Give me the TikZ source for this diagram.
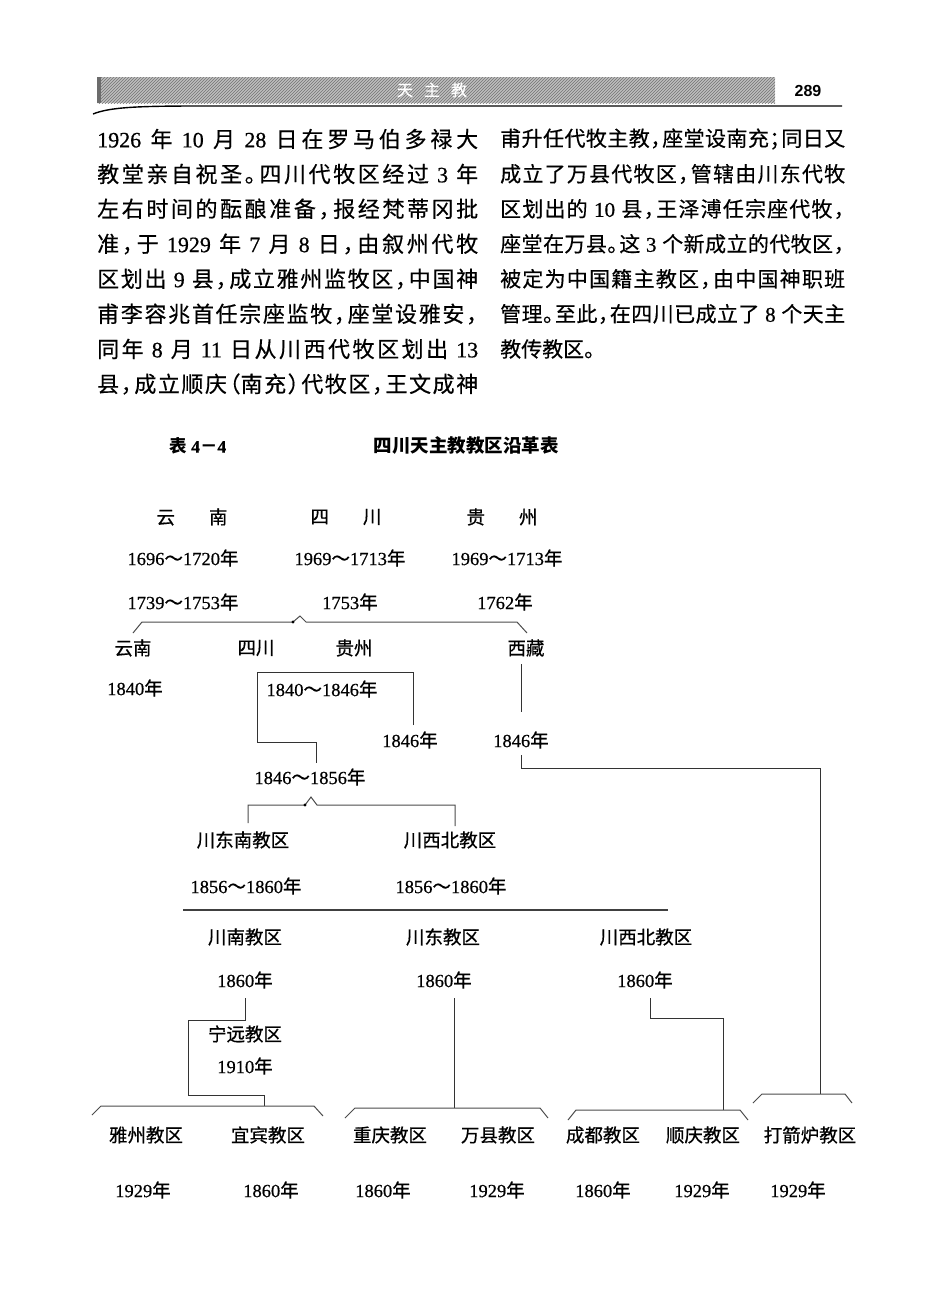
\documentclass[tikz,border=0pt]{standalone}
\usepackage{fontspec}
\usetikzlibrary{patterns}
\setmainfont{Noto Sans CJK SC}
\newfontfamily\ser{Liberation Serif}
\newfontfamily\serb{Liberation Serif}[FakeBold=0.6]
\newfontfamily\labcjk{Noto Sans CJK SC}[FakeBold=0.6]
\newfontfamily\bodycjk{Noto Sans CJK SC}[FakeBold=0.4]
\newfontfamily\sanslat{Liberation Sans}
\newcommand\nm[1]{{\serb #1}}
\newcommand\ny[1]{{\serb #1}}
\newcommand\gs{\hskip 0.25em plus 1fil\relax}
% inter-character glue for justified CJK lines
\newcount\cc
\cc="4E00 \loop \XeTeXcharclass\cc=21 \advance\cc by 1 \ifnum\cc<"A000 \repeat
\cc="3000 \loop \XeTeXcharclass\cc=21 \advance\cc by 1 \ifnum\cc<"3040 \repeat
\cc="FF00 \loop \XeTeXcharclass\cc=21 \advance\cc by 1 \ifnum\cc<"FFF0 \repeat
\XeTeXcharclass"FF0C=22 \XeTeXcharclass"3002=22 \XeTeXcharclass"FF1B=22
\XeTeXcharclass"FF1A=22 \XeTeXcharclass"3001=22 \XeTeXcharclass"FF09=22
\XeTeXcharclass"FF08=23
\XeTeXinterchartokenstate=1
\XeTeXinterchartoks 21 21 = {\hskip 0pt plus 1fil}
\XeTeXinterchartoks 21 22 = {\hskip 0pt plus 1fil}
\XeTeXinterchartoks 22 21 = {\kern-0.45em\hskip 0pt plus 1fil}
\XeTeXinterchartoks 22 22 = {\kern-0.45em}
\XeTeXinterchartoks 22 23 = {\kern-0.45em\kern-0.45em}
\XeTeXinterchartoks 21 23 = {\hskip 0pt plus 1fil\kern-0.45em}
\XeTeXinterchartoks 23 21 = {}
\newcommand\puncend{\kern-0.45em}
\begin{document}
\begin{tikzpicture}[x=1pt,y=-1pt,
  bodyl/.style={anchor=west,inner sep=0pt,font=\bodycjk\fontsize{22}{22}\selectfont},
  bodyr/.style={anchor=west,inner sep=0pt,font=\bodycjk\fontsize{21}{21}\selectfont},
  lab/.style={inner sep=1pt,font=\labcjk\fontsize{18.5}{19}\selectfont},
  ln/.style={line width=1pt,black!80},
  brk/.style={line width=1pt,black!70}]
\useasboundingbox (0,0) rectangle (936,1310);
\fill[white] (0,0) rectangle (936,1310);
% header
\fill[gray!50] (97,77) rectangle (775,103);
\fill[pattern=north east lines,pattern color=gray!90!black] (97,77) rectangle (775,103);
\fill[gray!85!black] (97,77) rectangle (101,103);
\node[inner sep=0pt,text=white,font=\labcjk\fontsize{16}{16}\selectfont] (hd) at (432,90) {天\hspace{11pt}主\hspace{11pt}教};
\node[inner sep=0pt,font=\fontsize{16}{16}\selectfont] (pg) at (808,91) {\sanslat\bfseries 289};
\draw[line width=1.4pt] (93,114) .. controls (110,107) and (140,106) .. (200,106) -- (842,106);
% left column
\node[bodyl] (a1) at (97,139) {\makebox[381pt][s]{\nm{1926}\gs 年\gs\nm{10}\gs 月\gs\nm{28}\gs 日在罗马伯多禄大}};
\node[bodyl] (a2) at (97,174) {\makebox[381pt][s]{教堂亲自祝圣。四川代牧区经过\gs\nm{3}\gs 年}};
\node[bodyl] (a3) at (97,209) {\makebox[381pt][s]{左右时间的酝酿准备，报经梵蒂冈批}};
\node[bodyl] (a4) at (97,244) {\makebox[381pt][s]{准，于\gs\nm{1929}\gs 年\gs\nm{7}\gs 月\gs\nm{8}\gs 日，由叙州代牧}};
\node[bodyl] (a5) at (97,279) {\makebox[381pt][s]{区划出\gs\nm{9}\gs 县，成立雅州监牧区，中国神}};
\node[bodyl] (a6) at (97,314) {\makebox[381pt][s]{甫李容兆首任宗座监牧，座堂设雅安，\puncend}};
\node[bodyl] (a7) at (97,349) {\makebox[381pt][s]{同年\gs\nm{8}\gs 月\gs\nm{11}\gs 日从川西代牧区划出\gs\nm{13}}};
\node[bodyl] (a8) at (97,384) {\makebox[381pt][s]{县，成立顺庆（南充）代牧区，王文成神}};
% right column
\node[bodyr] (b1) at (500,139) {\makebox[345pt][s]{甫升任代牧主教，座堂设南充；同日又}};
\node[bodyr] (b2) at (500,174) {\makebox[345pt][s]{成立了万县代牧区，管辖由川东代牧}};
\node[bodyr] (b3) at (500,209) {\makebox[345pt][s]{区划出的\gs\nm{10}\gs 县，王泽溥任宗座代牧，\puncend}};
\node[bodyr] (b4) at (500,244) {\makebox[345pt][s]{座堂在万县。这\gs\nm{3}\gs 个新成立的代牧区，\puncend}};
\node[bodyr] (b5) at (500,279) {\makebox[345pt][s]{被定为中国籍主教区，由中国神职班}};
\node[bodyr] (b6) at (500,314) {\makebox[345pt][s]{管理。至此，在四川已成立了\gs\nm{8}\gs 个天主}};
\node[bodyr] (b7) at (500,349) {教传教区。};
% titles
\node[lab,font=\bfseries\fontsize{17.5}{18}\selectfont] (t1) at (198,446) {表 \nm{\bfseries 4}－\nm{\bfseries 4}};
\node[lab,font=\bfseries\fontsize{18.5}{19}\selectfont] (t2) at (466,446) {四川天主教教区沿革表};
% row 1-3
\node[lab] (yn) at (192,517) {云\hspace{34pt}南};
\node[lab] (sc) at (346,517) {四\hspace{34pt}川};
\node[lab] (gz) at (502,517) {贵\hspace{34pt}州};
\node[lab] (yn1) at (183,558) {\ny{1696}～\ny{1720}年};
\node[lab] (sc1) at (350,558) {\ny{1969}～\ny{1713}年};
\node[lab] (gz1) at (507,558) {\ny{1969}～\ny{1713}年};
\node[lab] (yn2) at (183,602) {\ny{1739}～\ny{1753}年};
\node[lab] (sc2) at (350,602) {\ny{1753}年};
\node[lab] (gz2) at (505,602) {\ny{1762}年};
% bracket 1
\coordinate (k1l) at (133,633);
\coordinate (k1r) at (527,633);
\draw[brk] (k1l) -- (142,622) -- (293,622) -- (300,616) -- (306,622) -- (517,622) -- (k1r);
\fill (293,622) circle (1.6pt);
% row 4
\node[lab] (yn4) at (133,648) {云南};
\node[lab] (sc4) at (256,648) {四川};
\node[lab] (gz4) at (354,648) {贵州};
\node[lab] (xz4) at (526,648) {西藏};
\node[lab] (yn5) at (135,688) {\ny{1840}年};
\node[lab] (sc5) at (322,689) {\ny{1840}～\ny{1846}年};
\node[lab] (gz5) at (410,740) {\ny{1846}年};
\node[lab] (xz5) at (521,740) {\ny{1846}年};
\node[lab] (sc6) at (310,777) {\ny{1846}～\ny{1856}年};
\coordinate (bx1) at (257,672);
\coordinate (bx2) at (413,672);
\coordinate (bx3) at (413,725);
\coordinate (bx4) at (257,742);
\coordinate (bx5) at (316,742);
\coordinate (bx6) at (316,763);
\draw[ln] (bx3) -- (bx2) -- (bx1) -- (bx4) -- (bx5) -- (bx6);
\coordinate (xa) at (521,664);
\coordinate (xb) at (521,712);
\draw[ln] (xa) -- (xb);
\coordinate (xc) at (521,755);
\coordinate (xd) at (521,768);
\coordinate (xzc) at (820,768);
\coordinate (xze) at (820,1094);
\draw[ln] (xc) -- (xd) -- (xzc) -- (xze);
% bracket 2
\draw[brk] (248,823) -- (248,805) -- (305,805) -- (311,797) -- (317,805) -- (455,805) -- (455,826);
\fill (305,805) circle (1.6pt);
\node[lab] (cdn) at (243,840) {川东南教区};
\node[lab] (cxb) at (450,840) {川西北教区};
\node[lab] (cdn1) at (246,886) {\ny{1856}～\ny{1860}年};
\node[lab] (cxb1) at (451,886) {\ny{1856}～\ny{1860}年};
\draw[line width=1.1pt,black!75] (183,910) -- (668,910);
% row 1860
\node[lab] (cn) at (245,937) {川南教区};
\node[lab] (cd) at (443,937) {川东教区};
\node[lab] (cx) at (646,937) {川西北教区};
\node[lab] (cn1) at (245,980) {\ny{1860}年};
\node[lab] (cd1) at (444,980) {\ny{1860}年};
\node[lab] (cx1) at (645,980) {\ny{1860}年};
\node[lab] (ny) at (245,1034) {宁远教区};
\node[lab] (ny1) at (245,1066) {\ny{1910}年};
\draw[ln] (245,998) -- (245,1020) -- (188,1020) -- (188,1095) -- (264,1095) -- (264,1106);
\draw[ln] (454,998) -- (454,1108);
\draw[ln] (650,998) -- (650,1018) -- (723,1018) -- (723,1110);
% bottom brackets
\draw[brk] (92,1115) -- (101,1106) -- (314,1106) -- (323,1116);
\draw[brk] (345,1118) -- (355,1108) -- (540,1108) -- (548,1118);
\draw[brk] (568,1120) -- (576,1110) -- (740,1110) -- (748,1120);
\draw[brk] (753,1103) -- (762,1094) -- (845,1094) -- (852,1103);
% bottom labels
\node[lab] (yz) at (146,1135) {雅州教区};
\node[lab] (yb) at (268,1135) {宜宾教区};
\node[lab] (cq) at (390,1135) {重庆教区};
\node[lab] (wx) at (498,1135) {万县教区};
\node[lab] (cdu) at (603,1135) {成都教区};
\node[lab] (sq) at (703,1135) {顺庆教区};
\node[lab] (djl) at (810,1135) {打箭炉教区};
\node[lab] (yz1) at (143,1190) {\ny{1929}年};
\node[lab] (yb1) at (271,1190) {\ny{1860}年};
\node[lab] (cq1) at (383,1190) {\ny{1860}年};
\node[lab] (wx1) at (497,1190) {\ny{1929}年};
\node[lab] (cdu1) at (603,1190) {\ny{1860}年};
\node[lab] (sq1) at (702,1190) {\ny{1929}年};
\node[lab] (djl1) at (798,1190) {\ny{1929}年};
\end{tikzpicture}
\end{document}
